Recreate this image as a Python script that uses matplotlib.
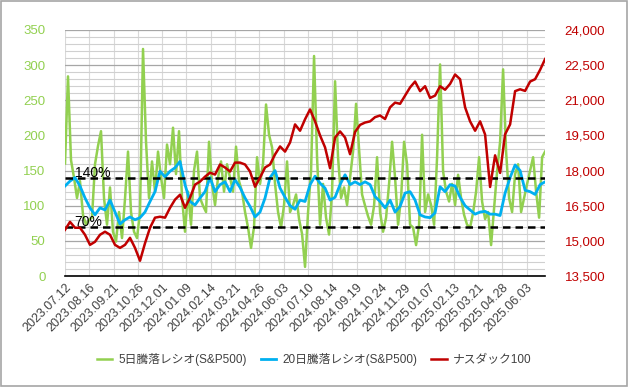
import numpy as np
import matplotlib
matplotlib.use("Agg")
import matplotlib.pyplot as plt
from matplotlib.ticker import FuncFormatter, MultipleLocator
from matplotlib.patches import Rectangle

plt.rcParams['font.family'] = ['Liberation Sans', 'Noto Sans CJK JP', 'DejaVu Sans']

# tick labels (every 25 trading days from 2023.07.12)
tick_labels = ['2023.07.12', '2023.08.16', '2023.09.21', '2023.10.26', '2023.12.01',
               '2024.01.09', '2024.02.14', '2024.03.21', '2024.04.26', '2024.06.03',
               '2024.07.10', '2024.08.14', '2024.09.19', '2024.10.24', '2024.11.29',
               '2025.01.07', '2025.02.13', '2025.03.21', '2025.04.28', '2025.06.03']
n_days = 494

# 5-day advance/decline ratio (S&P500), %
ratio5 = [160, 284, 165, 140, 111, 135, 87, 73, 80, 83,
          159, 185, 206, 111, 73, 126, 63, 49, 91, 54,
          110, 177, 91, 63, 54, 91, 323, 191, 111, 163,
          120, 177, 140, 111, 187, 159, 211, 145, 206, 111,
          63, 120, 73, 150, 177, 111, 100, 91, 191, 131,
          101, 140, 163, 120, 159, 140, 120, 184, 135, 120,
          91, 69, 40, 70, 169, 131, 160, 244, 201, 183,
          131, 91, 69, 101, 163, 91, 101, 116, 81, 60,
          13, 91, 149, 313, 169, 73, 131, 83, 59, 120,
          277, 169, 111, 126, 101, 140, 177, 245, 180, 116,
          100, 85, 73, 100, 169, 91, 63, 83, 131, 191,
          140, 73, 111, 191, 159, 73, 69, 44, 73, 201,
          91, 116, 101, 73, 169, 301, 149, 120, 106, 131,
          101, 144, 111, 87, 73, 69, 90, 120, 169, 106,
          81, 91, 44, 97, 149, 191, 294, 177, 111, 91,
          145, 159, 91, 111, 131, 150, 169, 120, 83, 169,
          177]

# 20-day advance/decline ratio (S&P500), %
ratio20 = [128, 135, 140, 128, 111, 97, 87, 97, 94, 108,
           91, 74, 80, 84, 80, 83, 91, 106, 120, 149,
           141, 149, 154, 163, 130, 106, 101, 111, 120, 140,
           120, 130, 134, 120, 137, 126, 111, 99, 84, 91,
           111, 140, 150, 125, 112, 100, 95, 108, 106, 130,
           142, 132, 125, 108, 112, 130, 144, 130, 134, 130,
           134, 130, 113, 106, 97, 108, 91, 99, 118, 120,
           108, 87, 84, 83, 90, 127, 120, 130, 128, 112,
           100, 94, 88, 91, 92, 88, 88, 86, 118, 140,
           158, 150, 122, 120, 116, 130, 134]

# Nasdaq 100
ndx = [15470, 15810, 15560, 15560, 15260, 14830, 14960, 15260, 15390, 15260,
       14830, 14700, 14830, 15130, 14700, 14150, 14900, 15560, 15990, 16030,
       15990, 16410, 16760, 16970, 16410, 16840, 17400, 17530, 17740, 17910,
       17830, 18260, 18130, 17960, 18340, 18340, 18260, 17960, 17310, 17700,
       18130, 18260, 18690, 19030, 18810, 19200, 19970, 19700, 20190, 20610,
       20100, 19500, 18990, 18100, 19410, 19670, 19410, 18700, 19650, 19950,
       20050, 20100, 20280, 20350, 20200, 20700, 20900, 20850, 21200, 21550,
       21800, 21390, 21600, 21100, 21200, 21600, 21450, 21700, 22100, 21900,
       20700, 20100, 19700, 20100, 19540, 17300, 18650, 17900, 19550, 19970,
       21390, 21470, 21400, 21800, 21900, 22300, 22760]

x5 = np.linspace(0, n_days, len(ratio5))
x20 = np.linspace(0, n_days, len(ratio20))
xn = np.linspace(0, n_days, len(ndx))

GREEN = '#92D050'
BLUE = '#00B0F0'
RED = '#C00000'

fig = plt.figure(figsize=(6.28, 3.87), dpi=100)
ax = fig.add_axes([0.1035, 0.2868, 0.7645, 0.6357])
ax2 = ax.twinx()

l1, = ax.plot(x5, ratio5, color=GREEN, lw=1.8, label='5日騰落レシオ(S&P500)')
l2, = ax.plot(x20, ratio20, color=BLUE, lw=2, label='20日騰落レシオ(S&P500)')
l3, = ax2.plot(xn, ndx, color=RED, lw=1.8, label='ナスダック100')

ax.axhline(140, color='black', lw=1.8, ls=(0, (3, 2)), zorder=5)
ax.axhline(70, color='black', lw=1.8, ls=(0, (3, 2)), zorder=5)
ax.text(10, 141, '140%', fontsize=10, color='black', zorder=6)
ax.text(10, 71, '70%', fontsize=10, color='black', zorder=6)

ax.set_xlim(0, n_days)
ax.set_ylim(0, 350)
ax2.set_ylim(13500, 24000)
ax.set_yticks(np.arange(0, 351, 50))
ax.yaxis.set_minor_locator(MultipleLocator(10))
ax2.set_yticks(np.arange(13500, 24001, 1500))
ax2.yaxis.set_major_formatter(FuncFormatter(lambda v, p: f'{int(v):,}'))

ax.set_xticks(np.arange(len(tick_labels)) * 25)
ax.set_xticklabels(tick_labels, rotation=45, ha='right', rotation_mode='anchor',
                   fontsize=9, color='#404040')

ax.grid(axis='y', which='major', color='#A6A6A6', lw=0.9)
ax.grid(axis='y', which='minor', color='#D0D0D0', lw=0.8)
ax.grid(axis='x', which='major', color='#D9D9D9', lw=0.8)
ax.set_axisbelow(True)

ax.tick_params(axis='y', colors=GREEN, labelsize=9.5, length=0, pad=14)
ax.tick_params(axis='y', which='minor', length=0)
ax2.tick_params(axis='y', colors=RED, labelsize=9.5, length=0, pad=14)
ax.tick_params(axis='x', length=0, pad=4)

for s in ['top', 'left', 'right']:
    ax.spines[s].set_visible(False)
    ax2.spines[s].set_visible(False)
ax.spines['bottom'].set_color('black')
ax.spines['bottom'].set_linewidth(1.2)
ax2.spines['bottom'].set_visible(False)

leg = fig.legend(handles=[l1, l2, l3], loc='center', bbox_to_anchor=(0.5, 0.07), ncol=3,
                 frameon=False, fontsize=8.5, handlelength=1.3, columnspacing=1.2,
                 handletextpad=0.5)
for t in leg.get_texts():
    t.set_color('#404040')

fig.patches.append(Rectangle((0.0015, 0.0015), 0.997, 0.997, transform=fig.transFigure,
                             fill=False, edgecolor='#A6A6A6', lw=1.2))

fig.savefig('out.png', dpi=100)
